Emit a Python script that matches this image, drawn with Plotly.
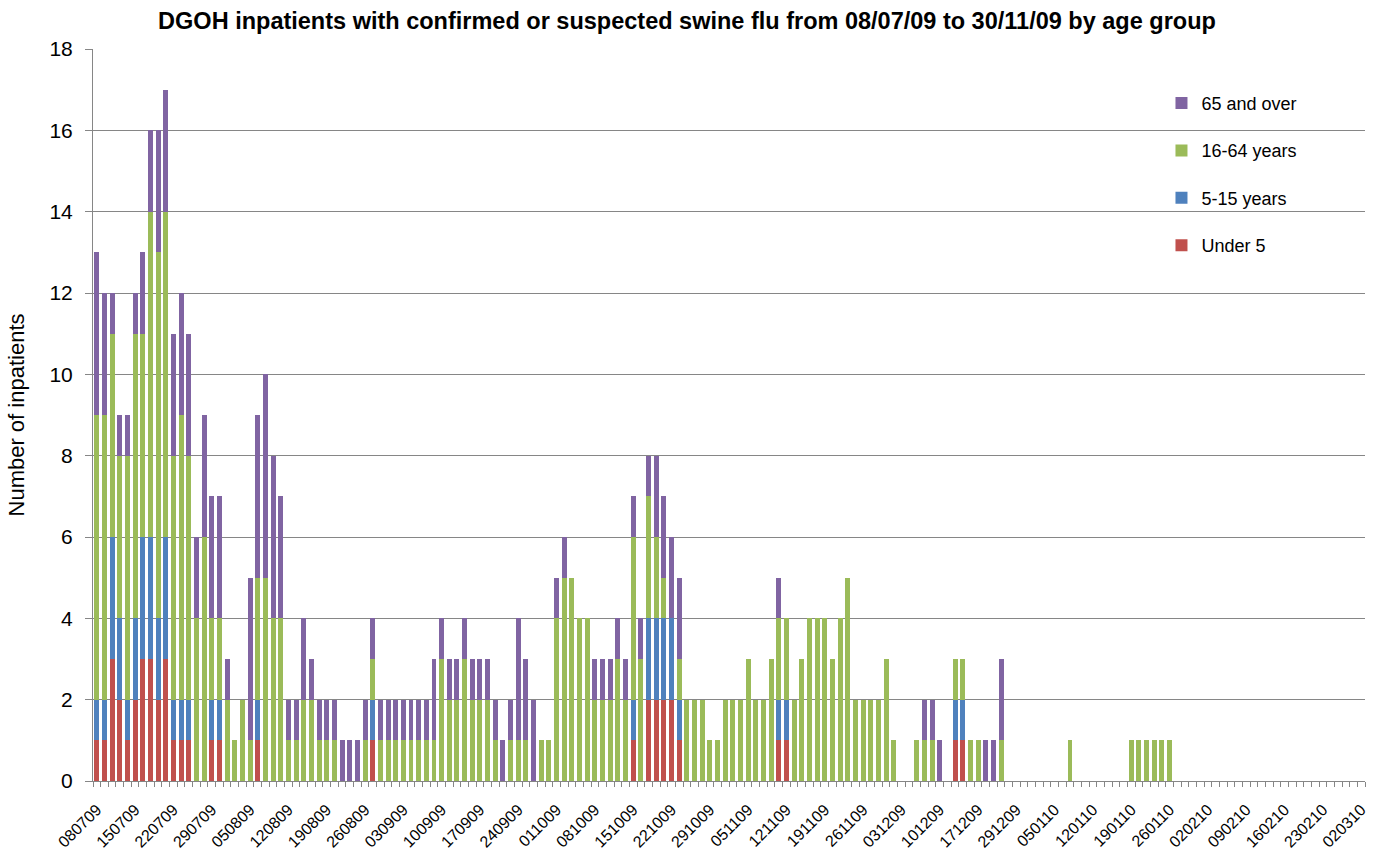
import pandas as pd
import plotly.graph_objects as go

# Working days covered by the report (bank holidays / Christmas closures removed)
closed_days = ["2009-08-31", "2009-12-24", "2009-12-25", "2009-12-28"]
days = [d for d in pd.bdate_range("2009-07-08", "2010-03-02")
        if d.strftime("%Y-%m-%d") not in closed_days]
categories = [d.strftime("%d%m%y") for d in days]

tick_labels = ["080709", "150709", "220709", "290709", "050809", "120809", "190809",
               "260809", "030909", "100909", "170909", "240909", "011009", "081009",
               "151009", "221009", "291009", "051109", "121109", "191109", "261109",
               "031209", "101209", "171209", "291209", "050110", "120110", "190110",
               "260110", "020210", "090210", "160210", "230210", "020310"]

under_5 = [1, 1, 3, 2, 1, 2, 3, 3, 2, 3, 1, 1, 1, 0, 0, 1, 1, 0, 0, 0,
           0, 1, 0, 0, 0, 0, 0, 0, 0, 0, 0, 0, 0, 0, 0, 0, 1, 0, 0, 0,
           0, 0, 0, 0, 0, 0, 0, 0, 0, 0, 0, 0, 0, 0, 0, 0, 0, 0, 0, 0,
           0, 0, 0, 0, 0, 0, 0, 0, 0, 0, 1, 0, 2, 2, 2, 2, 1, 0, 0, 0,
           0, 0, 0, 0, 0, 0, 0, 0, 0, 1, 1, 0, 0, 0, 0, 0, 0, 0, 0, 0,
           0, 0, 0, 0, 0, 0, 0, 0, 0, 0, 0, 0, 1, 1, 0, 0, 0, 0, 0, 0,
           0, 0, 0, 0, 0, 0, 0, 0, 0, 0, 0, 0, 0, 0, 0, 0, 0, 0, 0, 0,
           0, 0, 0, 0, 0, 0, 0, 0, 0, 0, 0, 0, 0, 0, 0, 0, 0, 0, 0, 0,
           0, 0, 0, 0, 0, 0]

age_5_15 = [1, 1, 3, 2, 1, 2, 3, 3, 2, 3, 1, 1, 1, 0, 0, 1, 1, 0, 0, 0,
            0, 1, 0, 0, 0, 0, 0, 0, 0, 0, 0, 0, 0, 0, 0, 0, 1, 0, 0, 0,
            0, 0, 0, 0, 0, 0, 0, 0, 0, 0, 0, 0, 0, 0, 0, 0, 0, 0, 0, 0,
            0, 0, 0, 0, 0, 0, 0, 0, 0, 0, 1, 0, 2, 2, 2, 2, 1, 0, 0, 0,
            0, 0, 0, 0, 0, 0, 0, 0, 0, 1, 1, 0, 0, 0, 0, 0, 0, 0, 0, 0,
            0, 0, 0, 0, 0, 0, 0, 0, 0, 0, 0, 0, 1, 1, 0, 0, 0, 0, 0, 0,
            0, 0, 0, 0, 0, 0, 0, 0, 0, 0, 0, 0, 0, 0, 0, 0, 0, 0, 0, 0,
            0, 0, 0, 0, 0, 0, 0, 0, 0, 0, 0, 0, 0, 0, 0, 0, 0, 0, 0, 0,
            0, 0, 0, 0, 0, 0]

age_16_64 = [7, 7, 5, 4, 6, 7, 5, 8, 9, 8, 6, 7, 6, 4, 6, 2, 2, 2, 1, 2,
             1, 3, 5, 4, 4, 1, 1, 2, 2, 1, 1, 1, 0, 0, 0, 1, 1, 1, 1, 1,
             1, 1, 1, 1, 1, 3, 2, 2, 3, 2, 2, 2, 1, 0, 1, 1, 1, 0, 1, 1,
             4, 5, 5, 4, 4, 2, 2, 2, 3, 2, 4, 3, 3, 2, 1, 0, 1, 2, 2, 2,
             1, 1, 2, 2, 2, 3, 2, 2, 3, 2, 2, 2, 3, 4, 4, 4, 3, 4, 5, 2,
             2, 2, 2, 3, 1, 0, 0, 1, 1, 1, 0, 0, 1, 1, 1, 1, 0, 0, 1, 0,
             0, 0, 0, 0, 0, 0, 0, 1, 0, 0, 0, 0, 0, 0, 0, 1, 1, 1, 1, 1,
             1, 0, 0, 0, 0, 0, 0, 0, 0, 0, 0, 0, 0, 0, 0, 0, 0, 0, 0, 0,
             0, 0, 0, 0, 0, 0]

age_65_over = [4, 3, 1, 1, 1, 1, 2, 2, 3, 3, 3, 3, 3, 2, 3, 3, 3, 1, 0, 0,
               4, 4, 5, 4, 3, 1, 1, 2, 1, 1, 1, 1, 1, 1, 1, 1, 1, 1, 1, 1,
               1, 1, 1, 1, 2, 1, 1, 1, 1, 1, 1, 1, 1, 1, 1, 3, 2, 2, 0, 0,
               1, 1, 0, 0, 0, 1, 1, 1, 1, 1, 1, 1, 1, 2, 2, 2, 2, 0, 0, 0,
               0, 0, 0, 0, 0, 0, 0, 0, 0, 1, 0, 0, 0, 0, 0, 0, 0, 0, 0, 0,
               0, 0, 0, 0, 0, 0, 0, 0, 1, 1, 1, 0, 0, 0, 0, 0, 1, 1, 2, 0,
               0, 0, 0, 0, 0, 0, 0, 0, 0, 0, 0, 0, 0, 0, 0, 0, 0, 0, 0, 0,
               0, 0, 0, 0, 0, 0, 0, 0, 0, 0, 0, 0, 0, 0, 0, 0, 0, 0, 0, 0,
               0, 0, 0, 0, 0, 0]

# Stacked bottom-to-top; legend lists the oldest group first
series = [
    ("Under 5", under_5, "#C0504D", 4),
    ("5-15 years", age_5_15, "#4F81BD", 3),
    ("16-64 years", age_16_64, "#9BBB59", 2),
    ("65 and over", age_65_over, "#8064A2", 1),
]

FONT = "Liberation Sans, Arial, sans-serif"

fig = go.Figure()
for name, values, colour, rank in series:
    fig.add_trace(go.Bar(
        x=categories, y=values, name=name, legendgroup=name, legendrank=rank,
        marker=dict(color=colour, line=dict(width=0)),
    ))

fig.update_layout(
    width=1374, height=858,
    margin=dict(l=93, r=5, t=49, b=77),
    barmode="stack", bargap=0.35,
    plot_bgcolor="white", paper_bgcolor="white",
    font=dict(family=FONT, color="black"),
    title=dict(
        text="<b>DGOH inpatients with confirmed or suspected swine flu from 08/07/09 to 30/11/09 by age group</b>",
        x=0.5, xanchor="center", y=0.976, yanchor="middle",
        font=dict(size=23.5, family=FONT),
    ),
    legend=dict(
        x=0.84, y=0.951, xanchor="left", yanchor="top",
        traceorder="grouped", tracegroupgap=21,
        font=dict(size=18, family=FONT), bgcolor="rgba(0,0,0,0)",
        itemwidth=30,
    ),
    xaxis=dict(
        type="category", categoryorder="array", categoryarray=categories,
        tickmode="array", tickvals=categories,
        ticktext=[c if c in tick_labels else "" for c in categories],
        tickson="boundaries", ticks="outside", ticklen=5, tickcolor="#868686",
        tickangle=-45, tickfont=dict(size=16, family=FONT), ticklabelstandoff=12,
        showline=True, linecolor="#868686", linewidth=1,
        showgrid=False, range=[-0.5, len(categories) - 0.5],
    ),
    yaxis=dict(
        range=[0, 18], dtick=2, tick0=0,
        ticks="outside", ticklen=7, tickcolor="#868686", ticklabelstandoff=8,
        tickfont=dict(size=21, family=FONT),
        showline=True, linecolor="#868686", linewidth=1,
        showgrid=True, gridcolor="#868686", gridwidth=1,
        zeroline=False,
        title=dict(text="Number of inpatients", font=dict(size=22, family=FONT), standoff=18),
    ),
)

fig.write_html("out.html")
